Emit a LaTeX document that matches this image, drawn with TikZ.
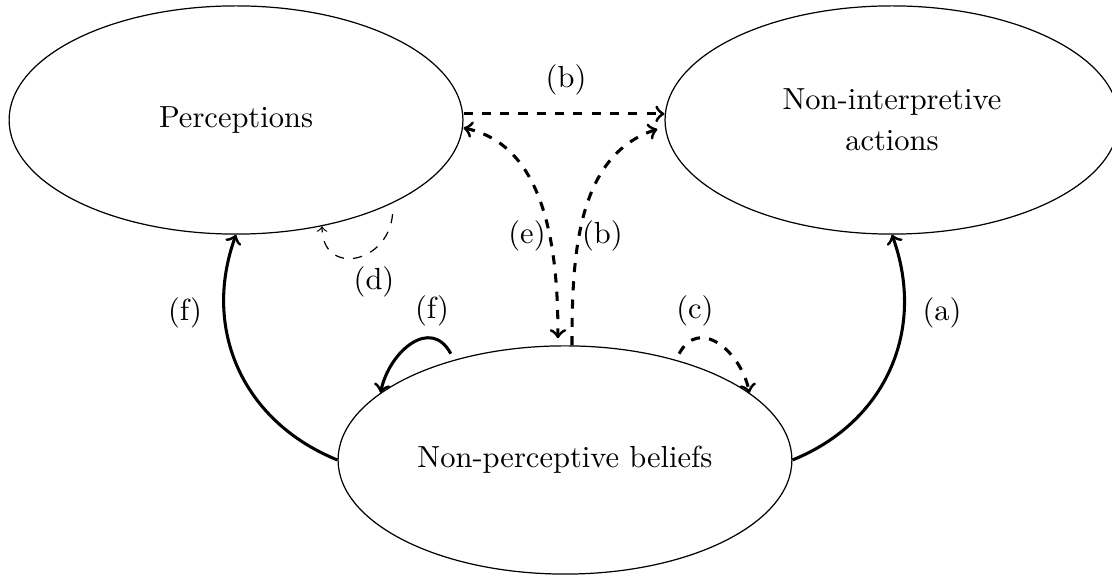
\documentclass[tikz,border=0pt]{standalone}
\usepackage{tikz}
\usetikzlibrary{shapes.geometric}
\tikzset{
  state/.style={ellipse, draw=black, minimum width=5.23cm, minimum height=2.63cm,
                inner sep=0pt, align=center},
  flow/.style={->, line width=1pt},
  dflow/.style={->, line width=1pt, dashed},
}

\begin{document}
\begin{tikzpicture}
  \useasboundingbox (0,0) rectangle (12.815,6.638);
  % states
  \node[state] (perc) at (2.720,5.255) {Perceptions};
  \node[state] (nia) at (10.279,5.255) {Non-interpretive\\[1.6pt]actions};
  \node[state] (npb) at (6.511,1.337) {Non-perceptive beliefs};
  % dashed links in the middle
  \draw[dflow] ([yshift=2pt]perc.east) -- ([yshift=2pt]nia.west);
  \draw[dflow, <->] ([yshift=-2.6pt]perc.east) to[out=-12,in=90,looseness=0.95]
        ([xshift=-2.3pt,yshift=2.3pt]npb.north);
  \draw[dflow] ([xshift=2.3pt]npb.north) to[out=90,in=198,looseness=0.95]
        ([xshift=-2.3pt,yshift=-3pt]nia.west);
  % solid links
  \draw[flow] (npb.east) to[out=22,in=-70,looseness=1.05] (nia.south);
  \draw[flow] (npb.west) to[out=158,in=-110,looseness=1.05] (perc.south);
  % loops
  \draw[flow] ([yshift=2.3pt]npb.139) to[out=118,in=78,looseness=1.35] (npb.160);
  \draw[dflow] ([yshift=2.3pt]npb.41) to[out=62,in=102,looseness=1.35] (npb.20);
  \draw[dashed, ->] ([yshift=-3.6pt]perc.-28) to[out=-95,in=-90,looseness=1.8] (perc.-51);
  % labels
  \node (lbtop) at (6.523,5.716) {(b)};
  \node (le) at (6.073,3.918) {(e)};
  \node (lbmid) at (6.943,3.918) {(b)};
  \node (ld) at (4.310,3.388) {(d)};
  \node (lfout) at (2.132,3.031) {(f)};
  \node (lfloop) at (4.978,3.054) {(f)};
  \node (lc) at (8.009,3.054) {(c)};
  \node (la) at (10.856,3.031) {(a)};
\end{tikzpicture}
\end{document}
